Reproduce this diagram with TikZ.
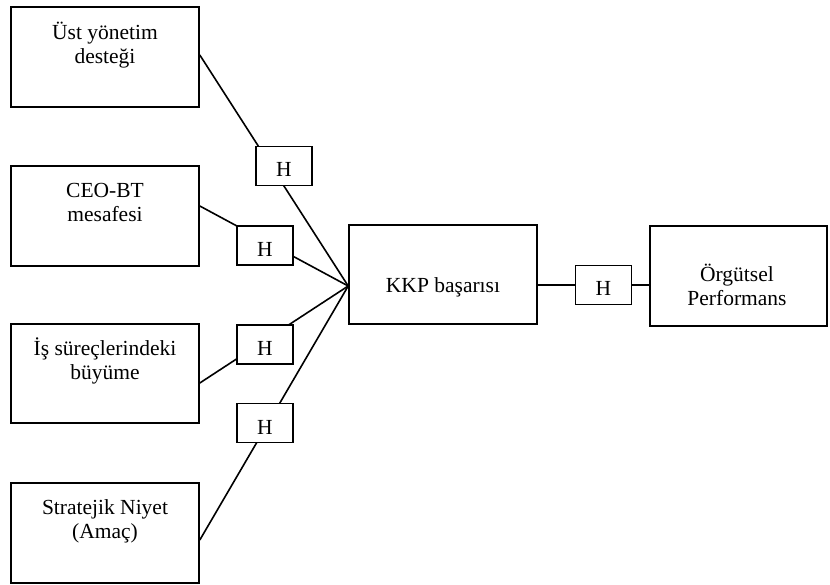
\documentclass[tikz,border=0pt]{standalone}
\usepackage{fontspec}
\setmainfont{Liberation Serif}
\usetikzlibrary{calc}
\begin{document}
\begin{tikzpicture}[x=1pt,y=-1pt,
  every node/.style={font=\fontsize{21.5}{24}\selectfont},
  box/.style={draw, line width=1.6pt, inner sep=0pt, minimum width=188pt, minimum height=100pt},
  hbox/.style={draw, fill=white, line width=1.6pt, inner sep=0pt, minimum width=56pt, minimum height=39pt, text height=22pt, text depth=0pt},
  txt/.style={align=center, inner sep=0pt, anchor=north},
  conn/.style={line width=1.6pt}]
\useasboundingbox (0,0) rectangle (830,585);
% left boxes
\node[box] (b1) at (105,57) {};
\node[box] (b2) at (105,216) {};
\node[box, minimum height=99pt] (b3) at (105,373.5) {};
\node[box] (b4) at (105,533) {};
\node[txt] (t1) at (105,19) {\rule{0pt}{20pt}Üst yönetim\\desteği};
\node[txt] (t2) at (105,177) {\rule{0pt}{20pt}CEO-BT\\mesafesi};
\node[txt] (t3) at (105,335) {\rule{0pt}{20pt}İş süreçlerindeki\\büyüme};
\node[txt] (t4) at (105,494) {\rule{0pt}{20pt}Stratejik Niyet\\(Amaç)};
% middle and right boxes
\node[box, minimum height=99pt, text height=37pt, text depth=0pt] (kkp) at (443,274.5) {KKP başarısı};
\node[box, minimum width=177pt] (org) at (738.5,276) {};
\node[txt] (t5) at (737,261) {\rule{0pt}{20pt}Örgütsel\\Performans};
% connection points
\coordinate (cv) at ($(kkp.west)+(0,11.5)$);
\coordinate (e1) at ($(b1.east)+(0,-2)$);
\coordinate (e2) at ($(b2.east)+(0,-10)$);
\coordinate (e3) at ($(b3.east)+(0,9.5)$);
\coordinate (e4) at ($(b4.east)+(0,7)$);
\coordinate (k1) at ($(kkp.east)+(0,10.5)$);
\coordinate (o1) at ($(org.west)+(0,9)$);
% connectors
\draw[conn] (e1) -- (cv);
\draw[conn] (e2) -- (cv);
\draw[conn] (e3) -- (cv);
\draw[conn] (e4) -- (cv);
\draw[conn] (k1) -- (o1);
% H boxes
\node[hbox] (h1) at (284,166) {H};
\node[hbox] (h2) at (265,245.5) {H};
\node[hbox] (h3) at (265,344.5) {H};
\node[hbox] (h4) at (265,423) {H};
\node[hbox] (h5) at (603.5,285) {H};
\end{tikzpicture}
\end{document}
